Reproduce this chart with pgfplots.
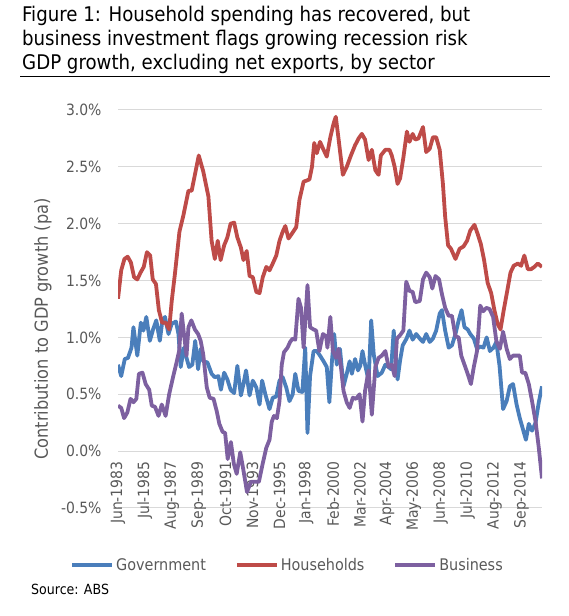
\documentclass[border=0pt]{standalone}
\usepackage{fontspec}
\setmainfont{DejaVu Sans Condensed}
\usepackage{pgfplots}
\pgfplotsset{compat=1.18}

\definecolor{govblue}{HTML}{4A7EBB}
\definecolor{hhred}{HTML}{BE4B48}
\definecolor{buspurple}{HTML}{7D60A0}
\definecolor{gridgray}{HTML}{D9D9D9}
\definecolor{txtgray}{HTML}{595959}

% x = quarters since Jun-1983
\begin{document}
\begin{tikzpicture}[x=1pt,y=1pt]
\useasboundingbox (0,0) rectangle (569,616);
\node[anchor=base west, inner sep=0, font=\fontsize{20.2}{24}\selectfont] at (22,594) {Figure 1: Household spending has recovered, but};
\node[anchor=base west, inner sep=0, font=\fontsize{20.2}{24}\selectfont] at (22,570) {business investment flags growing recession risk};
\node[anchor=base west, inner sep=0, font=\fontsize{20.2}{24}\selectfont] at (22,546) {GDP growth, excluding net exports, by sector};
\draw[line width=1pt] (20,539) -- (550,539);
\node[anchor=base west, inner sep=0, font=\fontsize{14}{16}\selectfont] at (31,21) {Source: ABS};

\begin{axis}[
  at={(118pt,108pt)}, anchor=south west,
  scale only axis, width=424pt, height=398pt,
  xmin=0, xmax=131.8, ymin=-0.5, ymax=3.0,
  axis line style={draw=none}, tick style={draw=none},
  ymajorgrids, grid style={gridgray, line width=1pt},
  ytick={-0.5,0,0.5,1,1.5,2,2.5,3},
  yticklabels={-0.5\%,0.0\%,0.5\%,1.0\%,1.5\%,2.0\%,2.5\%,3.0\%},
  yticklabel style={font=\fontsize{15.5}{18}\selectfont, text=txtgray},
  yticklabel shift=13pt,
  xtick={0,8.36,16.72,25.08,33.44,41.8,50.16,58.52,66.88,75.24,83.6,91.96,100.32,108.68,117.04,125.4},
  xticklabels={Jun-1983,Jul-1985,Aug-1987,Sep-1989,Oct-1991,Nov-1993,Dec-1995,Jan-1998,Feb-2000,Mar-2002,Apr-2004,May-2006,Jun-2008,Jul-2010,Aug-2012,Sep-2014},
  xticklabel style={rotate=90, anchor=east, font=\fontsize{15.5}{18}\selectfont, text=txtgray},
  xticklabel shift=-50pt,
  ylabel={Contribution to GDP growth (pa)},
  ylabel style={at={(axis description cs:-0.177,0.45)}, anchor=center, font=\fontsize{18}{20}\selectfont, text=txtgray},
  legend columns=3,
  legend style={at={(0.40,-0.143)}, anchor=center, draw=none, fill=none,
    font=\fontsize{16}{18}\selectfont, text=txtgray,
    /tikz/every even column/.append style={column sep=27pt}},
  legend image code/.code={\draw[#1] (0pt,0pt) -- (40pt,0pt);},
  every axis plot/.append style={line width=3.8pt, line join=round},
]
\addplot[govblue] coordinates {
(0,0.76) (1,0.66) (2.1,0.81) (3.1,0.82) (4.2,0.91) (4.8,1.09) (6,0.84) (7.1,1.13) (7.9,1.06) (8.8,1.18)
(9.9,0.97) (10.9,1.07) (11.9,1.15) (13,0.97) (13.8,1.15) (14.6,1.18) (15.7,1.03) (16.7,1.12) (18,1.14) (18.8,1.03)
(19.5,0.74) (20.5,0.91) (21.3,0.82) (22.1,0.74) (23.1,0.76) (24,0.97) (24.9,0.72) (25.7,0.90) (26.5,0.79) (27.8,0.78)
(29.1,0.68) (30.1,0.65) (31.2,0.66) (32,0.54) (33,0.69) (34,0.63) (35,0.54) (36.1,0.51) (37.1,0.75) (38.2,0.49)
(39,0.59) (39.8,0.71) (40.9,0.49) (41.9,0.62) (43,0.56) (44,0.41) (44.8,0.62) (45.8,0.50) (47.1,0.37) (48.1,0.47)
(49.2,0.48) (50.2,0.62) (51.2,0.65) (52.3,0.56) (53.3,0.44) (54.3,0.50) (55.1,0.68) (56.1,0.53) (57.3,0.52) (58.2,0.91)
(58.9,0.16) (59.7,0.66) (60.8,0.88) (61.8,0.88) (62.8,0.84) (63.9,0.79) (64.9,0.74) (65.7,0.43) (66.5,0.79) (67.2,1.03)
(68,0.76) (69,0.90) (70.1,0.57) (71.1,0.68) (72,0.79) (72.7,0.68) (73.7,0.81) (74.6,0.71) (75.3,0.75) (76,0.88)
(76.8,0.76) (77.9,0.62) (78.7,1.15) (79.5,0.85) (80.7,0.66) (82,0.69) (83.1,0.76) (84.1,0.74) (84.9,0.72) (85.7,1.06)
(86.9,0.63) (87.7,0.80) (88.5,0.93) (89.7,0.99) (90.6,1.06) (91.6,0.98) (92.7,1.03) (93.8,0.99) (94.8,0.96) (95.8,1.03)
(96.9,0.96) (97.9,0.99) (98.9,1.06) (100,1.21) (100.7,1.24) (101.7,1.06) (102.8,0.91) (103.8,0.93) (104.9,1.03) (105.9,1.15)
(106.8,1.24) (107.7,1.09) (108.7,1.07) (109.5,1.03) (110.6,0.99) (111.6,0.90) (112.6,0.92) (113.6,0.91) (114.6,1.00) (115.6,0.88)
(116.7,0.91) (117.6,0.96) (118.6,0.75) (119.7,0.37) (120.8,0.44) (121.8,0.57) (122.8,0.59) (123.9,0.41) (124.9,0.29) (125.9,0.19)
(126.8,0.10) (127.7,0.24) (128.7,0.18) (129.8,0.25) (130.8,0.43) (131.8,0.57)
};
\addlegendentry{Government}
\addplot[hhred] coordinates {
(0,1.34) (1,1.59) (2,1.69) (3,1.71) (4,1.66) (5,1.53) (6,1.51) (7,1.57) (8,1.62) (9,1.75)
(10,1.72) (10.8,1.51) (11.8,1.47) (12.7,1.24) (13.7,1.13) (14.8,1.13) (15.9,1.07) (16.7,1.32) (17.7,1.56) (19.1,1.93)
(20.3,2.07) (21.9,2.29) (22.9,2.29) (23.9,2.43) (25.1,2.60) (26.5,2.46) (28.1,2.24) (29.1,1.85) (30.1,1.69) (31,1.85)
(31.9,1.68) (33,1.81) (34,1.88) (35,2.00) (36.1,2.01) (37.1,1.88) (38.2,1.79) (39,1.68) (40,1.76) (40.9,1.54)
(41.9,1.53) (43,1.40) (44,1.39) (45,1.53) (46.1,1.62) (47.1,1.59) (48.1,1.65) (49.2,1.72) (50.2,1.85) (51.2,1.93)
(52,1.98) (53,1.87) (54,1.91) (55.4,1.97) (56.4,2.21) (57.7,2.37) (58.7,2.38) (59.5,2.39) (60.3,2.50) (61,2.71)
(61.8,2.62) (62.8,2.72) (63.9,2.65) (64.9,2.59) (66,2.76) (67,2.88) (67.7,2.94) (68.5,2.76) (69.9,2.43) (71.1,2.50)
(72.4,2.60) (73.7,2.69) (74.8,2.75) (75.8,2.79) (76.8,2.74) (77.9,2.56) (78.9,2.65) (80,2.47) (81,2.43) (81.7,2.60)
(83.1,2.65) (84.4,2.65) (85.1,2.60) (86,2.50) (86.9,2.35) (87.7,2.40) (88.7,2.58) (89.8,2.81) (90.6,2.72) (91.6,2.79)
(92.4,2.74) (93.4,2.75) (94.8,2.85) (95.8,2.63) (96.9,2.66) (97.9,2.76) (98.9,2.76) (100,2.65) (101,2.35) (101.7,2.06)
(102.6,1.81) (103.5,1.78) (104.9,1.69) (106.2,1.78) (107.4,1.80) (108.5,1.85) (109.5,1.94) (110.8,1.99) (111.8,1.91) (112.8,1.82)
(113.8,1.68) (114.9,1.48) (116,1.39) (117,1.24) (118,1.12) (118.9,1.07) (119.9,1.24) (121,1.41) (122,1.57) (123,1.63)
(124.3,1.65) (125.3,1.63) (126.3,1.72) (127.4,1.60) (128.4,1.60) (129.4,1.62) (130.5,1.65) (131.8,1.62)
};
\addlegendentry{Households}
\addplot[buspurple] coordinates {
(0,0.40) (1,0.38) (1.9,0.29) (2.9,0.34) (3.9,0.46) (4.8,0.43) (5.7,0.46) (6.5,0.68) (7.6,0.69) (8.6,0.59)
(9.7,0.54) (10.5,0.40) (11.5,0.39) (12.6,0.31) (13.6,0.41) (14.8,0.31) (15.9,0.50) (17.1,0.65) (18.2,0.78) (19,0.88)
(19.8,1.21) (20.5,1.03) (21.3,0.84) (21.9,1.09) (22.8,1.15) (23.9,1.07) (24.9,1.03) (25.7,0.97) (26.5,0.85) (27.6,0.56)
(28.5,0.47) (29.7,0.46) (30.7,0.35) (31.5,0.24) (32.5,0.17) (33.3,0.16) (34.1,-0.07) (35.1,0.08) (36,-0.11) (36.9,-0.20)
(38,-0.01) (39,-0.17) (40.1,-0.36) (41.3,-0.27) (42.4,-0.27) (43.8,-0.27) (44.9,-0.12) (46.1,0.03) (47.1,0.10) (47.8,0.26)
(48.5,0.31) (49.4,0.29) (50.2,0.44) (50.9,0.76) (51.6,0.87) (52.7,0.91) (53.5,0.96) (54.3,0.99) (55.1,0.98) (56.1,1.34)
(56.9,1.26) (57.7,0.91) (58.9,1.46) (59.7,1.09) (60.8,1.07) (61.6,1.06) (62.6,0.88) (63.7,1.03) (64.7,1.01) (65.1,0.91)
(66,1.18) (66.8,0.88) (67.8,0.82) (68.5,0.90) (69.3,0.74) (70.1,0.53) (71.1,0.43) (72,0.38) (73,0.47) (74,0.46)
(75.1,0.50) (76,0.26) (76.8,0.53) (77.9,0.71) (78.9,0.32) (80,0.74) (81,0.82) (82,0.84) (83.1,0.88) (84.1,0.74)
(85.1,0.76) (86,0.66) (86.7,0.99) (87.7,1.02) (88.7,1.06) (89.6,1.49) (90.6,1.41) (91.6,1.40) (92.4,1.31) (93.8,1.32)
(94.8,1.51) (95.8,1.57) (96.9,1.53) (97.7,1.43) (98.7,1.54) (99.8,1.51) (100.7,1.38) (101.7,1.26) (102.8,1.19) (103.8,1.19)
(104.9,1.01) (105.9,1.00) (106.7,0.84) (107.7,0.76) (108.7,0.68) (109.7,0.59) (110.6,0.74) (111.6,0.88) (112.6,1.28) (113.5,1.23)
(114.5,1.26) (115.5,1.25) (116.6,1.18) (117.6,0.97) (118.7,0.90) (119.7,1.05) (120.8,0.90) (121.8,0.81) (122.8,0.84) (123.9,0.84)
(124.9,0.84) (125.6,0.69) (126.6,0.69) (127.7,0.59) (128.7,0.44) (129.8,0.26) (130.8,0.03) (131.8,-0.24)
};
\addlegendentry{Business}
\end{axis}
\end{tikzpicture}
\end{document}
